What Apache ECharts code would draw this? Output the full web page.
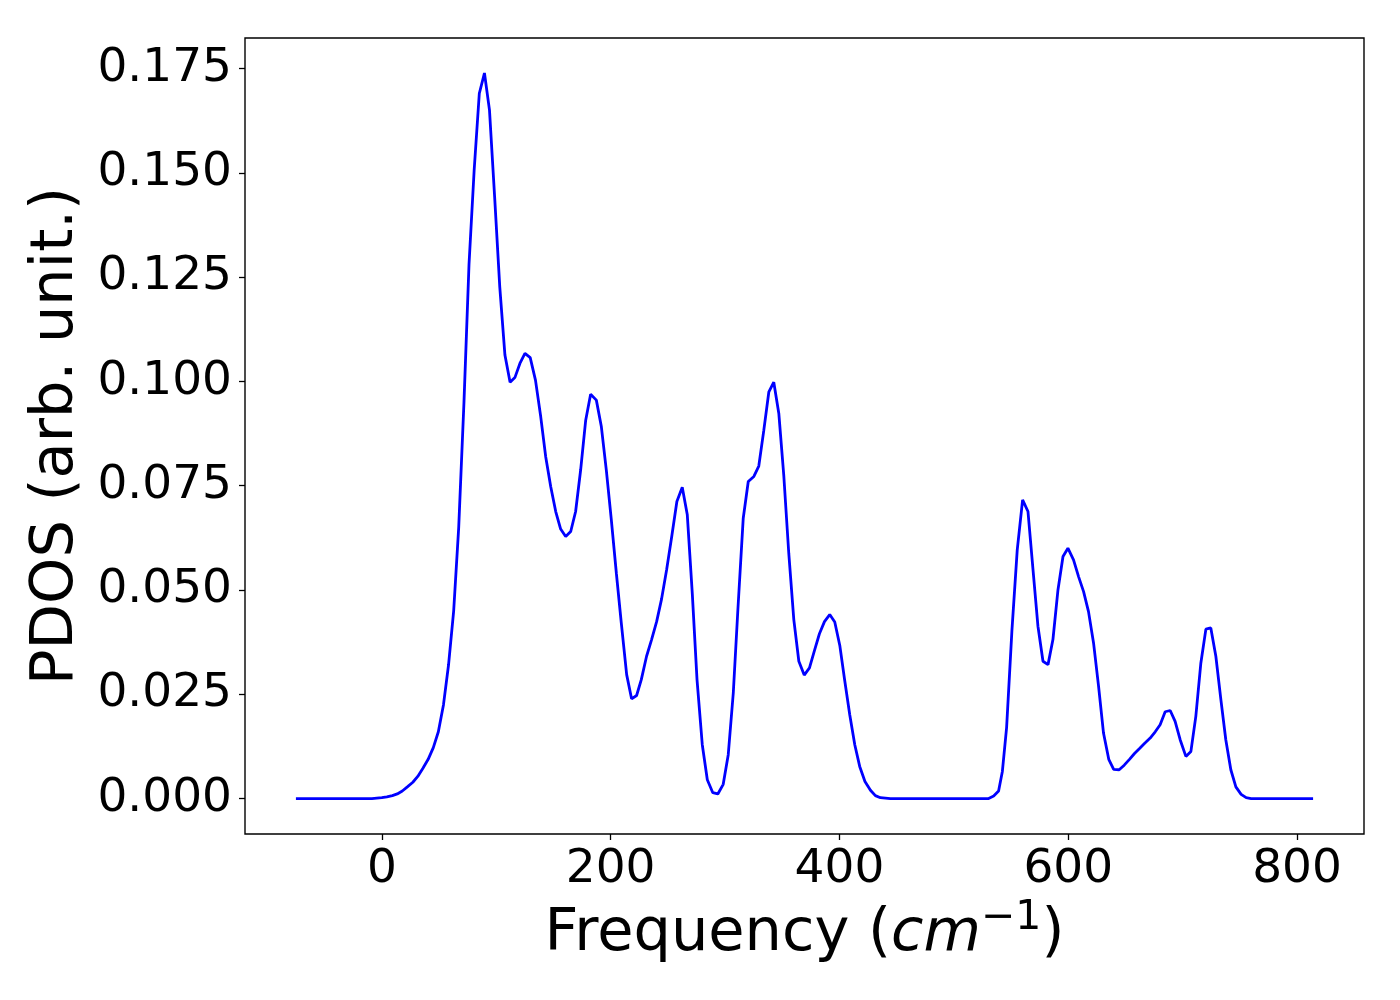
<!DOCTYPE html>
<html>
<head>
<meta charset="utf-8">
<script src="https://cdn.jsdelivr.net/npm/echarts@6/dist/echarts.min.js"></script>
<style>
html,body{margin:0;padding:0;background:#fff;}
#chart{width:1400px;height:1000px;}
</style>
</head>
<body>
<div id="chart"></div>
<script>
// Frequency (cm^-1) sample positions
const frequency = [
  -75.1, -8.7, -4.4, 0.0, 4.4, 9.2, 13.5, 17.9, 22.3, 27.1, 31.4, 35.8, 40.5, 45.0, 49.4,
  53.9, 58.3, 62.8, 67.2, 71.8, 76.2, 80.7, 85.2, 89.7, 94.1, 98.6, 103.1, 107.6, 112.1,
  116.3, 120.7, 125.1, 129.7, 134.3, 138.9, 143.2, 147.6, 152.0, 156.3, 160.7, 165.1,
  169.4, 173.8, 178.2, 182.5, 187.5, 191.9, 196.2, 200.6, 205.0, 209.3, 214.0, 218.3,
  222.7, 226.8, 231.4, 235.8, 240.2, 244.5, 248.9, 253.5, 257.9, 262.6, 267.0, 271.4,
  275.5, 280.1, 284.5, 289.3, 293.7, 298.4, 302.8, 307.2, 311.2, 315.9, 320.3, 325.2,
  329.5, 333.9, 338.3, 342.6, 347.0, 351.4, 355.7, 360.1, 364.5, 369.2, 373.8, 378.2,
  382.5, 386.9, 391.5, 395.9, 400.3, 404.6, 409.0, 413.4, 417.7, 422.3, 427.1, 431.4,
  435.8, 440.2, 444.5, 530.4, 534.8, 539.1, 542.4, 546.1, 550.7, 555.4, 560.1, 564.8,
  569.2, 573.5, 577.9, 582.3, 586.6, 591.0, 595.4, 599.7, 604.6, 609.0, 613.4, 617.7,
  622.1, 626.5, 630.8, 635.4, 639.7, 644.5, 648.9, 653.5, 657.9, 662.3, 666.6, 671.6,
  676.0, 680.3, 684.7, 689.1, 693.4, 697.8, 702.8, 707.2, 711.5, 715.9, 720.3, 724.6,
  729.0, 733.4, 737.7, 742.1, 746.5, 751.1, 755.5, 759.8, 814.0
];
// PDOS (arb. unit.) values
const pdos = [
  0, 0, 0.0001, 0.0002, 0.0004, 0.0007, 0.0011, 0.0018, 0.0028, 0.0039, 0.0053, 0.0072, 0.0094, 0.0122, 0.0160,
  0.0225, 0.0320, 0.0450, 0.0650, 0.0950, 0.1280, 0.1506, 0.1690, 0.1739, 0.1650, 0.1442, 0.1226, 0.1063, 0.0998,
  0.1009, 0.1043, 0.1067, 0.1057, 0.1003, 0.0915, 0.0820, 0.0748, 0.0688, 0.0646, 0.0628, 0.0640,
  0.0688, 0.0788, 0.0907, 0.0969, 0.0955, 0.0891, 0.0788, 0.0668, 0.0540, 0.0421, 0.0297, 0.0239,
  0.0247, 0.0285, 0.0341, 0.0381, 0.0424, 0.0478, 0.0548, 0.0630, 0.0712, 0.0746, 0.0680, 0.0490,
  0.0285, 0.0129, 0.0045, 0.0014, 0.0011, 0.0034, 0.0105, 0.0253, 0.0452, 0.0672, 0.0760, 0.0772,
  0.0797, 0.0883, 0.0975, 0.0998, 0.0923, 0.0772, 0.0588, 0.0429, 0.0329, 0.0296, 0.0313, 0.0355,
  0.0395, 0.0424, 0.0441, 0.0423, 0.0367, 0.0283, 0.0201, 0.0129, 0.0077, 0.0041, 0.0020, 0.0007,
  0.0002, 0.0001, 0, 0, 0.0006, 0.0018, 0.0065, 0.0170, 0.0400, 0.0596, 0.0716, 0.0688,
  0.0548, 0.0413, 0.0329, 0.0321, 0.0381, 0.0500, 0.0580, 0.0600, 0.0572, 0.0532, 0.0496, 0.0448,
  0.0373, 0.0269, 0.0157, 0.0094, 0.0070, 0.0069, 0.0080, 0.0094, 0.0108, 0.0120, 0.0132, 0.0145,
  0.0160, 0.0177, 0.0208, 0.0211, 0.0185, 0.0141, 0.0101, 0.0113, 0.0197, 0.0325, 0.0406, 0.0409,
  0.0341, 0.0237, 0.0141, 0.0069, 0.0028, 0.0010, 0.0002, 0, 0
];
const xTicks = [0, 200, 400, 600, 800];
const yTicks = [0, 0.025, 0.05, 0.075, 0.1, 0.125, 0.15, 0.175];

const seriesData = frequency.map((f, i) => [f, pdos[i]]);
const FONT = 'DejaVu Sans';

const chart = echarts.init(document.getElementById('chart'), null, {renderer: 'canvas'});
chart.setOption({
  animation: false,
  backgroundColor: '#ffffff',
  grid: {
    left: 245, right: 36, top: 38, bottom: 166,
    show: true, borderColor: '#000000', borderWidth: 1.4, backgroundColor: 'transparent'
  },
  xAxis: {
    type: 'value',
    min: -119.6, max: 858.5,
    axisLine: {show: false, onZero: false},
    splitLine: {show: false},
    axisTick: {show: true, inside: false, length: 6, lineStyle: {color: '#000', width: 1.3}, customValues: xTicks},
    axisLabel: {show: true, customValues: xTicks, margin: 12, color: '#000', fontFamily: FONT, fontSize: 47,
      formatter: v => String(Math.round(v))},
    name: '{n|Frequency (}{i|cm}{s|−1}{n|)}',
    nameLocation: 'middle',
    nameGap: 64,
    nameTextStyle: {
      color: '#000', fontFamily: FONT, fontSize: 59,
      rich: {
        n: {fontFamily: FONT, fontSize: 59, color: '#000', verticalAlign: 'bottom', lineHeight: 66},
        i: {fontFamily: FONT, fontSize: 59, fontStyle: 'italic', color: '#000', verticalAlign: 'bottom', lineHeight: 66},
        s: {fontFamily: FONT, fontSize: 41, color: '#000', verticalAlign: 'top', lineHeight: 40}
      }
    }
  },
  yAxis: {
    type: 'value',
    min: -0.0085, max: 0.1823,
    axisLine: {show: false, onZero: false},
    splitLine: {show: false},
    axisTick: {show: true, inside: false, length: 6, lineStyle: {color: '#000', width: 1.3}, customValues: yTicks},
    axisLabel: {show: true, customValues: yTicks, margin: 13, color: '#000', fontFamily: FONT, fontSize: 47,
      formatter: v => v.toFixed(3)},
    name: 'PDOS (arb. unit.)',
    nameLocation: 'middle',
    nameRotate: 90,
    nameGap: 145,
    nameTextStyle: {color: '#000', fontFamily: FONT, fontSize: 59}
  },
  series: [{
    type: 'line',
    data: seriesData,
    showSymbol: false,
    symbol: 'none',
    lineStyle: {color: '#0000ff', width: 2.8},
    itemStyle: {color: '#0000ff'},
    smooth: false,
    silent: true
  }]
});
</script>
</body>
</html>
